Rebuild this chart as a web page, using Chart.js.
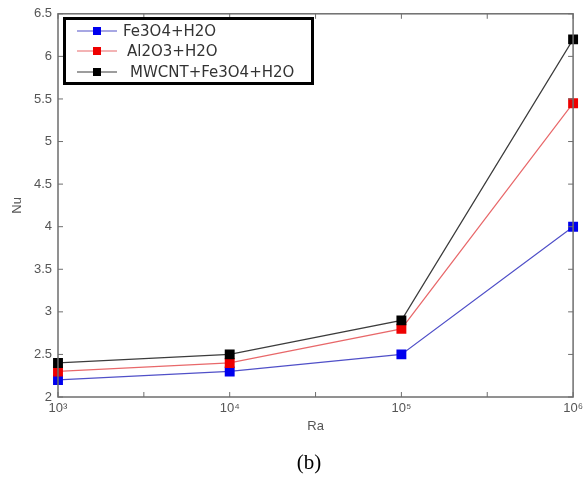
<!DOCTYPE html>
<html>
<head>
<meta charset="utf-8">
<script src="https://cdn.jsdelivr.net/npm/chart.js@4.4.0/dist/chart.umd.min.js"></script>
<style>
    html, body { margin: 0; padding: 0; background: #fff; }
    #wrap { width: 587px; height: 482px; position: relative; }
</style>
</head>
<body>
<div id="wrap"><canvas id="nuChart"></canvas></div>
<script>
// Nusselt number vs Rayleigh number
const raLabels = ['10³', '10⁴', '10⁵', '10⁶'];
const fe3o4 = [2.2, 2.3, 2.5, 4.0];
const al2o3 = [2.3, 2.4, 2.8, 5.45];
const mwcnt = [2.4, 2.5, 2.9, 6.2];
const nuTicks = [2, 2.5, 3, 3.5, 4, 4.5, 5, 5.5, 6, 6.5];

const axisColor = '#6e6e6e';
const textColor = '#555';

// caja tipo MATLAB con marcas hacia dentro
const boxAxes = {
    id: 'boxAxes',
    afterDatasetsDraw(chart) {
        const { ctx, chartArea: a, scales } = chart;
        const t = 5;
        ctx.save();
        ctx.strokeStyle = axisColor;
        ctx.lineWidth = 1.5;
        ctx.strokeRect(a.left, a.top, a.right - a.left, a.bottom - a.top);
        ctx.lineWidth = 1;
        ctx.beginPath();
        nuTicks.forEach(v => {
            const y = scales.y.getPixelForValue(v);
            ctx.moveTo(a.left, y); ctx.lineTo(a.left + t, y);
            ctx.moveTo(a.right, y); ctx.lineTo(a.right - t, y);
        });
        for (let i = 0; i < raLabels.length; i++) {
            const xs = [scales.x.getPixelForValue(i)];
            if (i < raLabels.length - 1) {
                xs.push((scales.x.getPixelForValue(i) + scales.x.getPixelForValue(i + 1)) / 2);
            }
            xs.forEach(x => {
                ctx.moveTo(x, a.bottom); ctx.lineTo(x, a.bottom - t);
                ctx.moveTo(x, a.top); ctx.lineTo(x, a.top + t);
            });
        }
        ctx.stroke();
        ctx.restore();
    }
};

// leyenda dentro del área con borde grueso
const boxLegend = {
    id: 'boxLegend',
    afterDraw(chart) {
        const { ctx } = chart;
        ctx.save();
        ctx.lineWidth = 3;
        ctx.strokeStyle = '#000';
        ctx.fillStyle = '#fff';
        ctx.fillRect(64, 18, 249, 66);
        ctx.strokeRect(64.5, 18.5, 248, 65);
        const rows = [31, 51, 72];
        const textX = [123, 127, 130];
        chart.data.datasets.forEach((ds, i) => {
            const y = rows[i];
            ctx.strokeStyle = ds.borderColor;
            ctx.lineWidth = 1.2;
            ctx.beginPath();
            ctx.moveTo(77, y); ctx.lineTo(117, y);
            ctx.stroke();
            ctx.fillStyle = ds.pointBackgroundColor;
            ctx.fillRect(93, y - 4, 8, 8);
            ctx.fillStyle = '#333';
            ctx.font = '15px "DejaVu Sans"';
            ctx.textBaseline = 'middle';
            ctx.fillText(ds.label, textX[i], y + 1);
        });
        // rótulo de la figura
        ctx.fillStyle = '#000';
        ctx.font = '21px "Liberation Serif"';
        ctx.textAlign = 'center';
        ctx.textBaseline = 'middle';
        ctx.fillText('(b)', 309, 463);
        ctx.restore();
    }
};

function serie(label, data, line, fill, order) {
    return {
        label: label,
        data: data,
        order: order,
        borderColor: line,
        borderWidth: 1.2,
        pointStyle: 'rect',
        pointRadius: 7,
        pointBackgroundColor: fill,
        pointBorderColor: fill,
        pointBorderWidth: 0,
        tension: 0
    };
}

const ctx = document.getElementById('nuChart').getContext('2d');
const nuChart = new Chart(ctx, {
    type: 'line',
    data: {
        labels: raLabels,
        datasets: [
            serie('Fe3O4+H2O', fe3o4, '#5050c8', '#0000ee', 2),
            serie('Al2O3+H2O', al2o3, '#e8686a', '#ee0000', 1),
            serie('MWCNT+Fe3O4+H2O', mwcnt, '#3c3c3c', '#000000', 0)
        ]
    },
    options: {
        responsive: true,
        maintainAspectRatio: false,
        animation: false,
        layout: { padding: { top: 11, right: 10, left: 0, bottom: 45 } },
        plugins: {
            legend: { display: false },
            tooltip: { enabled: false }
        },
        scales: {
            x: {
                type: 'category',
                offset: false,
                grid: { display: false, drawTicks: false },
                border: { display: false },
                ticks: {
                    color: textColor,
                    font: { family: 'Liberation Sans', size: 13 },
                    padding: 4,
                    maxRotation: 0
                },
                title: {
                    display: true,
                    text: 'Ra',
                    color: textColor,
                    font: { family: 'Liberation Sans', size: 13 },
                    padding: { top: 0, bottom: 3 }
                },
                afterFit(scale) { scale.height = 40; }
            },
            y: {
                min: 2,
                max: 6.5,
                grid: { display: false, drawTicks: false },
                border: { display: false },
                afterBuildTicks(scale) {
                    scale.ticks = nuTicks.map(v => ({ value: v }));
                },
                ticks: {
                    color: textColor,
                    font: { family: 'Liberation Sans', size: 13 },
                    padding: 6,
                    callback: v => String(v)
                },
                title: {
                    display: true,
                    text: 'Nu',
                    color: textColor,
                    font: { family: 'Liberation Sans', size: 13 },
                    padding: { top: 10, bottom: 0 }
                },
                afterFit(scale) { scale.width = 58; }
            }
        }
    },
    plugins: [boxAxes, boxLegend]
});
</script>
</body>
</html>
